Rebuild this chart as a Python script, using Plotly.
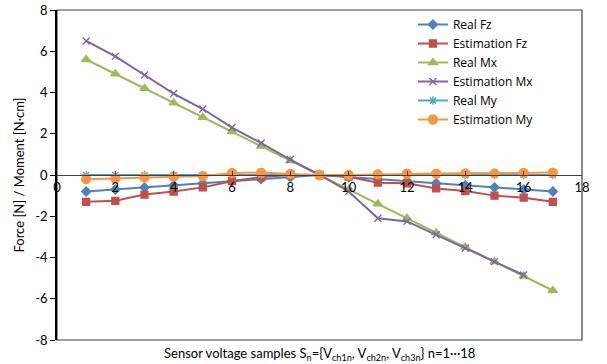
import plotly.graph_objects as go

samples = list(range(1, 18))
real_fz = [-0.8, -0.7, -0.6, -0.5, -0.4, -0.3, -0.2, -0.1, 0.0, -0.1, -0.2, -0.3, -0.4, -0.5, -0.6, -0.7, -0.8]
est_fz = [-1.3, -1.25, -0.95, -0.8, -0.6, -0.3, -0.1, 0.0, 0.0, -0.08, -0.37, -0.4, -0.65, -0.78, -1.0, -1.1, -1.3]
real_mx = [5.6, 4.9, 4.2, 3.5, 2.8, 2.1, 1.4, 0.7, 0.0, -0.7, -1.4, -2.1, -2.8, -3.5, -4.2, -4.9, -5.6]
est_mx = [6.5, 5.75, 4.85, 3.95, 3.2, 2.3, 1.55, 0.75, 0.0, -0.8, -2.1, -2.25, -2.9, -3.55, -4.2, -4.85, None]
real_my = [0.0] * 17
est_my = [-0.2, -0.17, -0.12, -0.08, -0.05, 0.1, 0.12, 0.05, 0.0, 0.0, 0.03, 0.07, 0.07, 0.08, 0.08, 0.1, 0.12]

x_ticks = list(range(0, 19, 2))
y_ticks = list(range(-8, 9, 2))

series = [
    ("Real Fz", real_fz, "#4F81BD", "diamond", 7),
    ("Estimation Fz", est_fz, "#C0504D", "square", 7),
    ("Real Mx", real_mx, "#9BBB59", "triangle-up", 8),
    ("Estimation Mx", est_mx, "#8064A2", "x-thin-open", 7),
    ("Real My", real_my, "#4BACC6", "asterisk-open", 7),
    ("Estimation My", est_my, "#F79646", "circle", 9),
]

font = "Lato, 'Open Sans', sans-serif"
fig = go.Figure()
for name, vals, col, sym, sz in series:
    fig.add_trace(go.Scatter(
        x=samples, y=vals, name=name, mode="lines+markers",
        line=dict(color=col, width=2),
        marker=dict(symbol=sym, size=sz, color=col, line=dict(color=col, width=1.3)),
    ))

fig.update_layout(
    width=607, height=364,
    margin=dict(l=57, r=25, t=10, b=24, autoexpand=False),
    paper_bgcolor="white", plot_bgcolor="white",
    font=dict(family=font, size=13, color="black"),
    showlegend=True,
    legend=dict(x=0.678, y=1.0, xanchor="left", yanchor="top",
                bgcolor="rgba(0,0,0,0)", font=dict(size=12, family="'Open Sans', sans-serif"),
                itemwidth=30, tracegroupgap=0),
    xaxis=dict(range=[0, 18], tickvals=x_ticks, ticktext=[str(v) for v in x_ticks],
               anchor="free", position=0.5, showline=True, linecolor="#404040", linewidth=1,
               ticks="inside", ticklen=4, tickcolor="#404040", showgrid=False, zeroline=False,
               automargin=False, tickfont=dict(size=13)),
    yaxis=dict(range=[-8, 8], tickvals=y_ticks, ticktext=[str(v) for v in y_ticks],
               showline=True, linecolor="black", linewidth=1.5, ticks="outside", ticklen=5,
               tickcolor="black", showgrid=False, zeroline=False, automargin=False,
               title=dict(text="Force [N] / Moment [N·cm]", font=dict(size=13), standoff=8),
               tickfont=dict(size=13)),
    shapes=[dict(type="rect", xref="paper", yref="paper", x0=0, y0=0, x1=1, y1=1,
                 line=dict(color="#404040", width=1.2), layer="below")],
    annotations=[dict(text="Sensor voltage samples S<sub>n</sub>={V<sub>ch1n</sub>, V<sub>ch2n</sub>, V<sub>ch3n</sub>} n=1···18",
                      xref="paper", yref="paper", x=0.5, y=0, yshift=-3,
                      xanchor="center", yanchor="top", showarrow=False,
                      font=dict(size=13))],
)

fig.write_html("out.html", config={"displayModeBar": False},
               post_script="document.body.style.margin='0';document.body.style.overflow='hidden';")
